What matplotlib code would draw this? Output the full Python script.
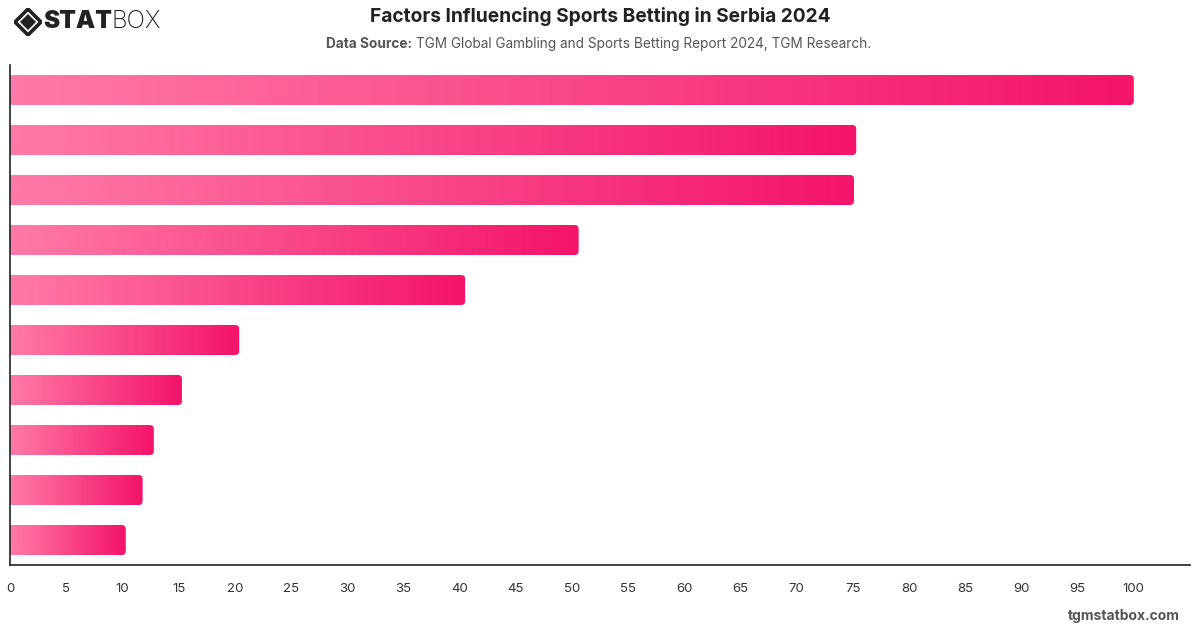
import matplotlib
matplotlib.use("Agg")
import matplotlib.pyplot as plt
import numpy as np
from matplotlib.path import Path
from matplotlib.patches import PathPatch, Polygon
from matplotlib.colors import LinearSegmentedColormap

plt.rcParams['font.family'] = ['Inter', 'DejaVu Sans']

categories = [f"Factor {i}" for i in range(1, 11)]
values = [100, 75.3, 75.1, 50.6, 40.5, 20.4, 15.3, 12.8, 11.8, 10.3]
xticks = list(range(0, 101, 5))

W, H = 1200, 628
fig = plt.figure(figsize=(W / 100, H / 100), dpi=100)
fig.patch.set_facecolor('white')

ax_l, ax_r, ax_t, ax_b = 10, 1190, 65, 565
ax = fig.add_axes([ax_l / W, (H - ax_b) / H, (ax_r - ax_l) / W, (ax_b - ax_t) / H])
xmax = 105
ax.set_xlim(0, xmax)
ax.set_ylim(len(values) - 0.5, -0.5)

cmap = LinearSegmentedColormap.from_list("pink", ["#ff7aa8", "#f4146a"])
grad = np.linspace(0, 1, 256).reshape(1, -1)
bar_h = 0.6
px_x = xmax / (ax_r - ax_l)
px_y = len(values) / (ax_b - ax_t)
rx, ry = 4 * px_x, 4 * px_y

for i, v in enumerate(values):
    y0, y1 = i - bar_h / 2, i + bar_h / 2
    verts = [(0, y0), (v - rx, y0), (v, y0), (v, y0 + ry), (v, y1 - ry), (v, y1),
             (v - rx, y1), (0, y1), (0, y0)]
    codes = [Path.MOVETO, Path.LINETO, Path.CURVE3, Path.CURVE3, Path.LINETO,
             Path.CURVE3, Path.CURVE3, Path.LINETO, Path.CLOSEPOLY]
    patch = PathPatch(Path(verts, codes), facecolor='none', edgecolor='none')
    ax.add_patch(patch)
    im = ax.imshow(grad, cmap=cmap, aspect='auto', extent=(0, v, y1, y0),
                   interpolation='bicubic', zorder=2)
    im.set_clip_path(patch)

ax.set_xlim(0, xmax)
ax.set_ylim(len(values) - 0.5, -0.5)
ax.set_yticks([])
ax.set_xticks(xticks)
ax.set_xticklabels([str(t) for t in xticks], fontsize=9.5, color='#333333')
ax.tick_params(axis='x', length=0, pad=13)
for s in ['top', 'right']:
    ax.spines[s].set_visible(False)
for s in ['left', 'bottom']:
    ax.spines[s].set_color('#222222')
    ax.spines[s].set_linewidth(1.2)

# Titles
fig.text(600 / W, 1 - 17 / H, "Factors Influencing Sports Betting in Serbia 2024",
         ha='center', va='center', fontsize=13.8, fontweight='bold', color='#222222')
t1 = fig.text(326 / W, 1 - 44 / H, "Data Source:", ha='left', va='center',
              fontsize=9.8, fontweight='bold', color='#555555')
fig.canvas.draw()
bb = t1.get_window_extent()
fig.text((bb.x1 + 4) / W, 1 - 44 / H,
         "TGM Global Gambling and Sports Betting Report 2024, TGM Research.",
         ha='left', va='center', fontsize=9.8, color='#555555')

# Footer
fig.text(1180 / W, 1 - 616 / H, "tgmstatbox.com", ha='right', va='center',
         fontsize=10, fontweight='bold', color='#555555')

# Logo
lax = fig.add_axes([14 / W, 1 - 36 / H, 28 / W, 28 / H])
lax.set_xlim(0, 28)
lax.set_ylim(0, 28)
lax.axis('off')
outer = [(14, 27), (27, 14), (14, 1), (1, 14)]
lax.add_patch(Polygon(outer, closed=True, facecolor='none', edgecolor='#222222', linewidth=2.6))
inner = [(14, 22), (22, 14), (14, 6), (6, 14)]
lax.add_patch(Polygon(inner, closed=True, facecolor='#222222', edgecolor='none'))
ts = fig.text(43 / W, 1 - 21 / H, "STAT", ha='left', va='center', fontsize=17.5,
              fontweight='black', color='#222222')
fig.canvas.draw()
bb = ts.get_window_extent()
fig.text((bb.x1 + 0) / W, 1 - 21 / H, "BOX", ha='left', va='center', fontsize=17.5,
         fontweight='light', color='#222222')

fig.savefig("out.png", dpi=100, facecolor='white')
